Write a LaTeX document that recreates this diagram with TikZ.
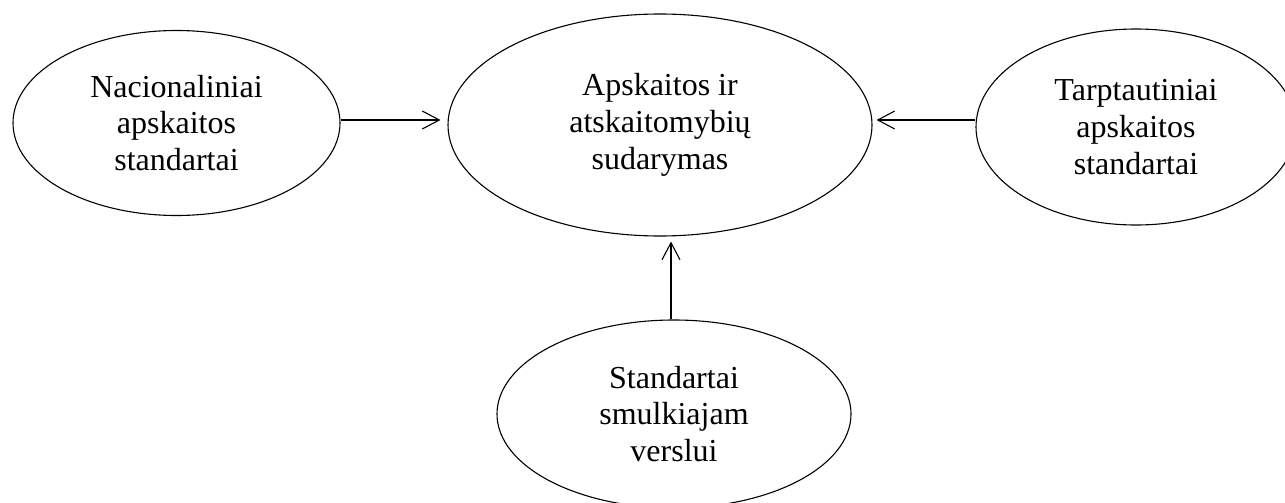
\documentclass[tikz,border=0pt]{standalone}
\usepackage{fontspec}
\setmainfont{Liberation Serif}
\usetikzlibrary{shapes.geometric,arrows.meta}
\begin{document}
\begin{tikzpicture}[x=0.5pt,y=-0.5pt,
	oval/.style={draw,ellipse,inner sep=0pt,line width=0.55pt,align=center,
		font=\fontsize{16}{18.4}\selectfont},
	link/.style={line width=0.55pt,-{Straight Barb[length=8.5pt,width=9pt]}}]
			\clip (0,0) rectangle (1285,503);
			\node [oval,minimum width=163.5pt,minimum height=92.5pt] (nas) at (176.5,123) {Nacionaliniai\\apskaitos\\standartai};
			\node [oval,minimum width=212pt,minimum height=111pt] (sud) at (660,125) {Apskaitos ir\\atskaitomybių\\sudarymas};
			\node [oval,minimum width=160pt,minimum height=98pt] (tas) at (1136,127) {Tarptautiniai\\apskaitos\\standartai};
			\node [oval,minimum width=177pt,minimum height=94pt] (sms) at (674,414) {Standartai\\smulkiajam\\verslui};
			\draw [link,shorten >=3.5pt] ([yshift=1.5pt]nas.east) -- ([yshift=1.5pt]nas.east -| sud.west);
			\draw [link,shorten >=2pt] ([yshift=3.5pt]tas.west) -- ([yshift=3.5pt]tas.west -| sud.east);
			\draw [link,shorten >=2.5pt] ([xshift=-1.5pt]sms.north) -- ([xshift=-1.5pt]sms.north |- sud.south);
		\end{tikzpicture}
\end{document}
